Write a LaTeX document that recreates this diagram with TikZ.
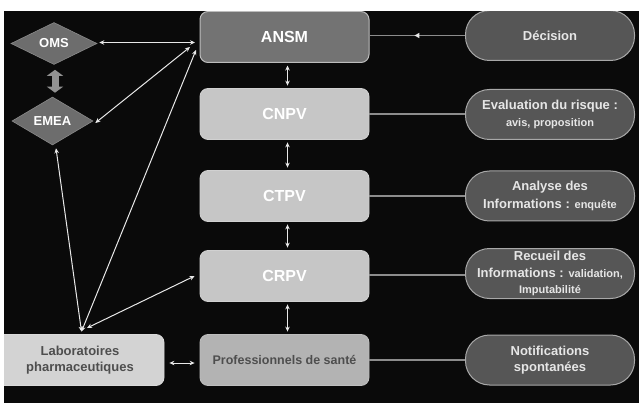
\documentclass[tikz,border=0pt]{standalone}
\usepackage{fontspec}
\setmainfont{Liberation Sans}
\usetikzlibrary{shapes.geometric,arrows.meta,decorations.markings,calc}
\definecolor{bg}{HTML}{0A0A0A}
\definecolor{ansmfill}{HTML}{737373}
\definecolor{ansmline}{HTML}{BDBDBD}
\definecolor{lightbox}{HTML}{C6C6C6}
\definecolor{proffill}{HTML}{B3B3B3}
\definecolor{labfill}{HTML}{D3D3D3}
\definecolor{darktext}{HTML}{4E4E4E}
\definecolor{diafill}{HTML}{6D6D6D}
\definecolor{pillfill}{HTML}{565656}
\definecolor{pillline}{HTML}{A8A8A8}
\definecolor{pilltext}{HTML}{E6E6E6}
\definecolor{arrowc}{HTML}{E8E8E8}
\definecolor{linkc}{HTML}{8C8C8C}
\definecolor{thickc}{HTML}{929292}
\newcommand{\fsz}[2]{\fontsize{#1}{#2}\selectfont}
\begin{document}
\begin{tikzpicture}[x=1pt,y=-1pt,
  box/.style={rectangle, rounded corners=8pt, minimum width=169pt, minimum height=51pt, inner sep=0pt, font=\bfseries\fsz{16}{18}},
  lbox/.style={box, fill=lightbox, draw=lightbox!80!white, line width=0.8pt, text=white},
  dia/.style={diamond, fill=diafill, draw=diafill!80!white, line width=0.6pt, inner sep=0pt, text=white, font=\bfseries\fsz{13}{15}},
  pill/.style={rectangle, rounded corners=24pt, minimum width=169pt, minimum height=50pt, inner sep=0pt, fill=pillfill, draw=pillline, line width=1pt, text=pilltext, align=center, font=\bfseries\fsz{13}{16.5}},
  conn/.style={draw=arrowc, line width=1pt, {Stealth[length=5pt,width=4.5pt]}-{Stealth[length=5pt,width=4.5pt]}},
  link/.style={draw=linkc, line width=1.3pt}
]
\useasboundingbox (0,0) rectangle (639,403);
\fill[bg] (0,0) rectangle (639,403);

% central column
\node[box, fill=ansmfill, draw=ansmline, line width=1pt, text=white] (ansm) at (284.5,37) {ANSM};
\node[lbox] (cnpv) at (284.5,114) {CNPV};
\node[lbox] (ctpv) at (284.5,196) {CTPV};
\node[lbox] (crpv) at (284.5,276) {CRPV};
\node[box, fill=proffill, draw=proffill!85!white, line width=0.8pt, text=darktext, font=\bfseries\fsz{12.5}{15}] (prof) at (284.5,360) {Professionnels de santé};
\node[box, minimum width=168pt, fill=labfill, draw=labfill!85!white, line width=0.8pt, text=darktext, align=center, font=\bfseries\fsz{13}{15.5}] (lab) at (80,360) {Laboratoires\\pharmaceutiques};

% diamonds
\node[dia, minimum width=86pt, minimum height=42pt] (oms) at (54,43.5) {OMS};
\node[dia, minimum width=81pt, minimum height=48pt] (emea) at (52.5,121) {EMEA};

% pills
\node[pill] (dec) at (550,35.5) {Décision};
\node[pill] (eval) at (550,114.5) {Evaluation du risque :\\{\fsz{11}{15}avis, proposition}};
\node[pill] (anal) at (550,196) {Analyse des\\[1.5pt]Informations : {\fsz{11}{16.5}enquête}};
\node[pill] (rec) at (550,273.5) {Recueil des\\Informations : {\fsz{11}{16.5}validation,}\\{\fsz{11}{16.5}Imputabilité}};
\node[pill] (notif) at (550,360) {Notifications\\spontanées};

% links to pills
\draw[link, postaction={decorate}, decoration={markings, mark=at position 0.53 with {\arrow[arrowc]{Triangle[length=5pt,width=5pt]}}}] (dec.west) -- (dec.west -| ansm.east);
\draw[link] (cnpv.east) -- (cnpv.east -| eval.west);
\draw[link] (ctpv.east) -- (ctpv.east -| anal.west);
\draw[link] ($(crpv.east)+(0,-1)$) -- ($(crpv.east -| rec.west)+(0,-1)$);
\draw[link] (prof.east) -- (prof.east -| notif.west);

% vertical arrows
\draw[conn] ($(ansm.south)+(3,2.5)$) -- ($(cnpv.north)+(3,-2.5)$);
\draw[conn] ($(cnpv.south)+(3,2.5)$) -- ($(ctpv.north)+(3,-2.5)$);
\draw[conn] ($(ctpv.south)+(3,2.5)$) -- ($(crpv.north)+(3,-2.5)$);
\draw[conn] ($(crpv.south)+(3,2.5)$) -- ($(prof.north)+(3,-2.5)$);

% lab <-> prof
\draw[conn] ($(lab.east)+(5,3)$) -- ($(prof.west)+(-5,3)$);

% OMS <-> EMEA thick
\draw[thickc, line width=7pt, {Triangle[length=6pt,width=16pt]}-{Triangle[length=6pt,width=16pt]}] ($(oms.south)+(1,5)$) -- ($(emea.north)+(2.5,-4)$);

% arrows to ANSM
\coordinate (a1) at (195,42.5);
\coordinate (a2) at (190,47);
\coordinate (a3) at (196,50);
\coordinate (l1) at (81.5,331.5);
\coordinate (l2) at (87,328);
\draw[conn] ($(oms.east)+(2,-1)$) -- (a1);
\draw[conn] ($(emea.east)+(2,2)$) -- (a2);
\draw[conn] (l1) -- (a3);
\draw[conn] ($(emea.south)+(3.5,3)$) -- (l1);
\draw[conn] (l2) -- ($(crpv.west)+(-5,0)$);

% white margins
\fill[white] (0,0) rectangle (639,11);
\fill[white] (0,0) rectangle (4,403);
\end{tikzpicture}
\end{document}
